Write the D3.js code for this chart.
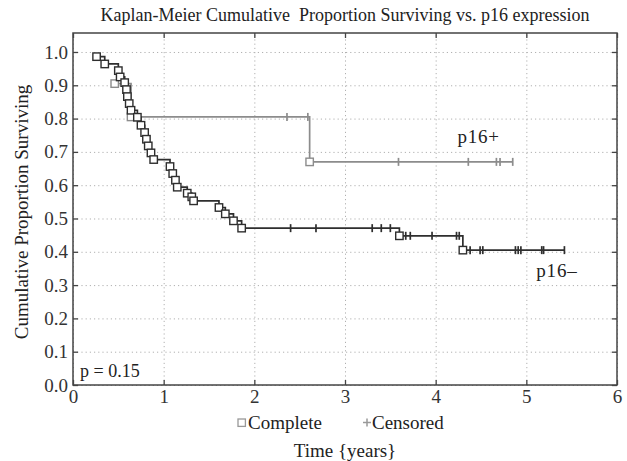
<!DOCTYPE html>
<html>
<head>
<meta charset="utf-8">
<script src="https://cdn.jsdelivr.net/npm/d3@7"></script>
<style>
  body { margin: 0; background: #fff; }
  svg { display: block; font-family: "Liberation Serif", "DejaVu Serif", serif; }
</style>
</head>
<body>
<div id="chart"></div>
<script>
// p16- group: complete events [time, survival] and censored times
var negEvents = [
  [0.26, 0.986], [0.35, 0.964], [0.50, 0.944], [0.52, 0.925], [0.57, 0.908],
  [0.59, 0.887], [0.60, 0.866], [0.62, 0.845], [0.64, 0.825], [0.71, 0.804],
  [0.75, 0.780], [0.79, 0.758], [0.81, 0.738], [0.83, 0.718], [0.86, 0.697],
  [0.89, 0.677], [1.07, 0.656], [1.10, 0.635], [1.13, 0.615], [1.15, 0.594],
  [1.26, 0.576], [1.31, 0.565], [1.33, 0.553], [1.61, 0.533], [1.68, 0.514],
  [1.77, 0.493], [1.86, 0.471], [3.60, 0.448], [4.30, 0.405]
]
var negCensored = [2.40, 2.68, 3.30, 3.40, 3.50, 3.67, 3.72, 3.96, 4.23, 4.26,
  4.38, 4.49, 4.52, 4.88, 4.91, 4.94, 5.17, 5.19, 5.42]

// p16+ group
var posEvents = [[0.46, 0.905], [0.64, 0.805], [2.61, 0.670]]
var posCensored = [2.36, 2.59, 3.59, 4.36, 4.67, 4.71, 4.85]

var xTicks = [0, 1, 2, 3, 4, 5, 6]
var yTicks = [0, 0.1, 0.2, 0.3, 0.4, 0.5, 0.6, 0.7, 0.8, 0.9, 1.0]

var W = 627, H = 461
var margin = {top: 33, right: 10, bottom: 76, left: 73},
    width = W - margin.left - margin.right,
    height = H - margin.top - margin.bottom

var svg = d3.select('#chart').append('svg')
    .attr('width', W)
    .attr('height', H)

var g = svg.append('g')
    .attr('transform', 'translate(' + margin.left + ',' + margin.top + ')')

var x = d3.scaleLinear().domain([0, 6]).range([0, width])
var y = d3.scaleLinear().domain([0, 1.057]).range([height, 0])

// dotted grid
g.append('g')
  .call(d3.axisLeft(y).tickValues(yTicks).tickSize(-width).tickFormat(''))
  .call(function(s) { s.select('.domain').remove() })
  .selectAll('line')
    .attr('stroke', '#b0b0b0')
    .attr('stroke-dasharray', '1.2,3')
g.append('g')
  .attr('transform', 'translate(0,' + height + ')')
  .call(d3.axisBottom(x).tickValues(xTicks).tickSize(-height).tickFormat(''))
  .call(function(s) { s.select('.domain').remove() })
  .selectAll('line')
    .attr('stroke', '#b0b0b0')
    .attr('stroke-dasharray', '1.2,3')

// step lines
function stepPath(events, censored) {
  var pts = events.slice()
  var last = events[events.length - 1]
  var end = d3.max(censored)
  if (end > last[0]) pts.push([end, last[1]])
  return d3.line()
    .x(function(d) { return x(d[0]) })
    .y(function(d) { return y(d[1]) })
    .curve(d3.curveStepAfter)(pts)
}

// survival value for a censored time
function survAt(events, t) {
  var s = events[0][1]
  events.forEach(function(e) { if (e[0] <= t) s = e[1] })
  return s
}

function drawGroup(events, censored, color) {
  g.append('path')
    .attr('d', stepPath(events, censored))
    .attr('fill', 'none')
    .attr('stroke', color)
    .attr('stroke-width', 1.7)

  g.selectAll(null)
    .data(censored)
    .enter().append('line')
      .attr('x1', function(d) { return x(d) })
      .attr('x2', function(d) { return x(d) })
      .attr('y1', function(d) { return y(survAt(events, d)) - 4 })
      .attr('y2', function(d) { return y(survAt(events, d)) + 4 })
      .attr('stroke', color)
      .attr('stroke-width', 1.7)

  g.selectAll(null)
    .data(events)
    .enter().append('rect')
      .attr('x', function(d) { return x(d[0]) - 3.7 })
      .attr('y', function(d) { return y(d[1]) - 3.7 })
      .attr('width', 7.4)
      .attr('height', 7.4)
      .attr('fill', '#fff')
      .attr('stroke', color)
      .attr('stroke-width', 1.4)
}

drawGroup(posEvents, posCensored, '#8c8c8c')
drawGroup(negEvents, negCensored, '#2e2e2e')

// frame and tick marks (inward)
g.append('rect')
  .attr('width', width)
  .attr('height', height)
  .attr('fill', 'none')
  .attr('stroke', '#444')
  .attr('stroke-width', 1.5)

g.append('g')
  .call(d3.axisLeft(y).tickValues(yTicks).tickSize(-5).tickPadding(5).tickFormat(d3.format('.1f')))
  .call(function(s) { s.select('.domain').remove() })
  .call(function(s) {
    s.selectAll('line').attr('stroke', '#444').attr('stroke-width', 1.3)
    s.selectAll('text').attr('font-size', 19).attr('fill', '#333')
      .attr('font-family', '"Liberation Serif", serif')
  })

g.append('g')
  .attr('transform', 'translate(' + width + ',0)')
  .call(d3.axisRight(y).tickValues(yTicks).tickSize(-5).tickFormat(''))
  .call(function(s) { s.select('.domain').remove() })
  .selectAll('line').attr('stroke', '#444').attr('stroke-width', 1.3)

g.append('g')
  .attr('transform', 'translate(0,' + height + ')')
  .call(d3.axisBottom(x).tickValues(xTicks).tickSize(-5).tickPadding(5).tickFormat(d3.format('d')))
  .call(function(s) { s.select('.domain').remove() })
  .call(function(s) {
    s.selectAll('line').attr('stroke', '#444').attr('stroke-width', 1.3)
    s.selectAll('text').attr('font-size', 19).attr('fill', '#333')
      .attr('font-family', '"Liberation Serif", serif')
  })

g.append('g')
  .call(d3.axisTop(x).tickValues(xTicks).tickSize(-5).tickFormat(''))
  .call(function(s) { s.select('.domain').remove() })
  .selectAll('line').attr('stroke', '#444').attr('stroke-width', 1.3)

// labels
svg.append('text')
  .attr('x', margin.left + width / 2)
  .attr('y', 21)
  .attr('text-anchor', 'middle')
  .attr('font-size', 18)
  .attr('fill', '#222')
  .style('white-space', 'pre')
  .text('Kaplan-Meier Cumulative  Proportion Surviving vs. p16 expression')

svg.append('text')
  .attr('transform', 'translate(28,' + (margin.top + height / 2 + 3) + ') rotate(-90)')
  .attr('text-anchor', 'middle')
  .attr('font-size', 19)
  .attr('fill', '#222')
  .text('Cumulative Proportion Surviving')

svg.append('text')
  .attr('x', margin.left + width / 2)
  .attr('y', 457)
  .attr('text-anchor', 'middle')
  .attr('font-size', 19)
  .attr('fill', '#222')
  .text('Time {years}')

g.append('text')
  .attr('x', 7)
  .attr('y', height - 8)
  .attr('font-size', 18)
  .attr('fill', '#222')
  .text('p = 0.15')

g.append('text')
  .attr('x', x(4.24))
  .attr('y', y(0.727))
  .attr('font-size', 19)
  .attr('letter-spacing', 0.8)
  .attr('fill', '#222')
  .text('p16+')

g.append('text')
  .attr('x', x(5.11))
  .attr('y', y(0.324))
  .attr('font-size', 19)
  .attr('letter-spacing', 0.8)
  .attr('fill', '#222')
  .text('p16\u2013')

// legend
var leg = svg.append('g').attr('transform', 'translate(0,' + 429 + ')')
leg.append('rect')
  .attr('x', 238).attr('y', -10).attr('width', 7.4).attr('height', 7.4)
  .attr('fill', '#fff').attr('stroke', '#999').attr('stroke-width', 1.3)
leg.append('text').attr('x', 248).attr('y', 0).attr('font-size', 19).attr('fill', '#222').text('Complete')
leg.append('line').attr('x1', 363).attr('x2', 371).attr('y1', -6.5).attr('y2', -6.5)
  .attr('stroke', '#999').attr('stroke-width', 1.5)
leg.append('line').attr('x1', 367).attr('x2', 367).attr('y1', -10.5).attr('y2', -2.5)
  .attr('stroke', '#999').attr('stroke-width', 1.5)
leg.append('text').attr('x', 372).attr('y', 0).attr('font-size', 19).attr('fill', '#222').text('Censored')
</script>
</body>
</html>
